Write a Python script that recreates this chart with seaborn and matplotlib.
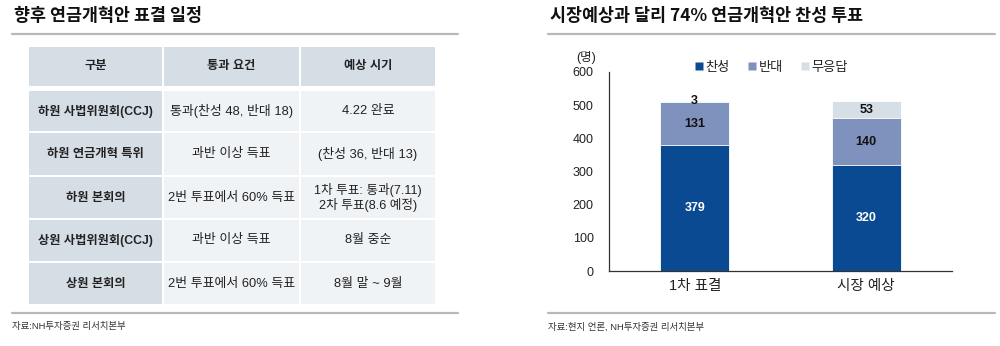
import matplotlib
matplotlib.use("Agg")
import matplotlib.pyplot as plt
from matplotlib.patches import Rectangle
from matplotlib.lines import Line2D
import seaborn as sns
import pandas as pd

# ---- data ----
categories = ["1차 표결", "시장 예상"]
approve = [379, 320]
oppose = [131, 140]
no_answer = [3, 53]
series_names = ["찬성", "반대", "무응답"]
y_ticks = [0, 100, 200, 300, 400, 500, 600]

table_header = ["구분", "통과 요건", "예상 시기"]
table_stage = ["하원 사법위원회(CCJ)", "하원 연금개혁 특위", "하원 본회의",
               "상원 사법위원회(CCJ)", "상원 본회의"]
table_requirement = ["통과(찬성 48, 반대 18)", "과반 이상 득표", "2번 투표에서 60% 득표",
                     "과반 이상 득표", "2번 투표에서 60% 득표"]
table_timing = ["4.22 완료", "(찬성 36, 반대 13)", "1차 투표: 통과(7.11)\n2차 투표(8.6 예정)",
                "8월 중순", "8월 말 ~ 9월"]

left_title = "향후 연금개혁안 표결 일정"
right_title = "시장예상과 달리 74% 연금개혁안 찬성 투표"
left_source = "자료:NH투자증권 리서치본부"
right_source = "자료:현지 언론, NH투자증권 리서치본부"

# ---- style ----
sns.set_style("white")
FONT = ["Liberation Sans", "Noto Sans CJK KR", "DejaVu Sans"]
TITLE_FONT = ["Noto Sans CJK KR", "DejaVu Sans"]
plt.rcParams["font.family"] = FONT
plt.rcParams["axes.unicode_minus"] = False

C_APPROVE = "#0a4a92"
C_OPPOSE = "#7f91bd"
C_NONE = "#d6dee6"
C_HEAD = "#d5dde5"
C_CELL = "#f0f3f6"
C_TEXT = "#222222"
C_RULE = "#b8b8b8"

W, H = 1000, 346
fig = plt.figure(figsize=(W / 100, H / 100), dpi=100)

# full-figure overlay in pixel coordinates for titles, rules and the table
bg = fig.add_axes([0, 0, 1, 1])
bg.set_xlim(0, W)
bg.set_ylim(H, 0)
bg.axis("off")

# titles and rules
bg.text(14, 16, left_title, fontsize=12.5, fontweight="bold", va="center", ha="left",
        color="#111111", family=TITLE_FONT)
bg.text(550, 16, right_title, fontsize=12.5, fontweight="bold", va="center", ha="left",
        color="#111111", family=TITLE_FONT)
for x0, x1 in [(12, 458), (548, 995)]:
    bg.plot([x0, x1], [34, 34], color=C_RULE, lw=1.6)
    bg.plot([x0, x1], [313, 313], color=C_RULE, lw=1.6)
bg.text(12, 327, left_source, fontsize=6.8, va="center", ha="left", color="#333333")
bg.text(548, 327, right_source, fontsize=6.8, va="center", ha="left", color="#333333")

# table
col_edges = [(29, 162), (164, 299), (301, 435)]
row_edges = [(47, 86), (91, 131), (133, 175), (177, 218), (220, 261), (263, 304)]
rows = [table_header] + [list(r) for r in zip(table_stage, table_requirement, table_timing)]
for ri, (y0, y1) in enumerate(row_edges):
    for ci, (x0, x1) in enumerate(col_edges):
        head = ri == 0 or ci == 0
        bg.add_patch(Rectangle((x0, y0), x1 - x0, y1 - y0,
                               facecolor=C_HEAD if head else C_CELL, edgecolor="none"))
        txt = rows[ri][ci]
        multi = "\n" in txt
        if head:
            fs = 8.8
        elif multi:
            fs = 9.1
        else:
            fs = 9.3
        bg.text((x0 + x1) / 2, (y0 + y1) / 2, txt,
                fontsize=fs,
                fontweight="bold" if head else "normal",
                ha="center", va="center", color=C_TEXT,
                linespacing=1.1)

# ---- stacked bar chart ----
ax = fig.add_axes([0.609, (H - 271) / H, 0.343, 199 / H])
df = pd.DataFrame({
    "구분": categories,
    "찬성": approve,
    "반대": oppose,
    "무응답": no_answer,
})
df["찬성+반대"] = df["찬성"] + df["반대"]
df["합계"] = df["찬성+반대"] + df["무응답"]

for col, color in [("합계", C_NONE), ("찬성+반대", C_OPPOSE), ("찬성", C_APPROVE)]:
    sns.barplot(data=df, x="구분", y=col, color=color, width=0.4,
                saturation=1, edgecolor="white", linewidth=0.6, ax=ax)

ax.set_ylim(0, 600)
ax.set_xlim(-0.5, 1.5)
ax.set_yticks(y_ticks)
ax.set_xlabel("")
ax.set_ylabel("")
for s in ["top", "right"]:
    ax.spines[s].set_visible(False)
for s in ["left", "bottom"]:
    ax.spines[s].set_color("#333333")
    ax.spines[s].set_linewidth(0.9)
ax.tick_params(axis="y", length=0, pad=11, labelsize=9, labelcolor=C_TEXT)
ax.tick_params(axis="x", length=0, pad=6, labelsize=10.5, labelcolor=C_TEXT)
ax.set_xticks([0.5], minor=True)
ax.tick_params(axis="x", which="minor", length=3, color="#666666", direction="out")

# segment value labels
for i in range(len(categories)):
    base = 0
    for vals, tc in [(approve, "white"), (oppose, "#111111"), (no_answer, "#111111")]:
        v = vals[i]
        ax.text(i, base + v / 2, f"{v}", ha="center", va="center",
                fontsize=9, fontweight="bold", color=tc, family=FONT)
        base += v

# unit label
bg.text(586, 57, "(명)", fontsize=9, ha="center", va="center", color=C_TEXT)

# legend
handles = [Line2D([], [], marker="s", linestyle="none", markersize=6,
                  markerfacecolor=c, markeredgecolor="none")
           for c in [C_APPROVE, C_OPPOSE, C_NONE]]
fig.legend(handles, series_names, loc="center", bbox_to_anchor=(770 / W, 1 - 68 / H),
           ncol=3, frameon=False, handletextpad=0.0, columnspacing=1.2,
           handlelength=1.0, fontsize=9.5, labelcolor=C_TEXT)

fig.savefig("out.png", dpi=100)
